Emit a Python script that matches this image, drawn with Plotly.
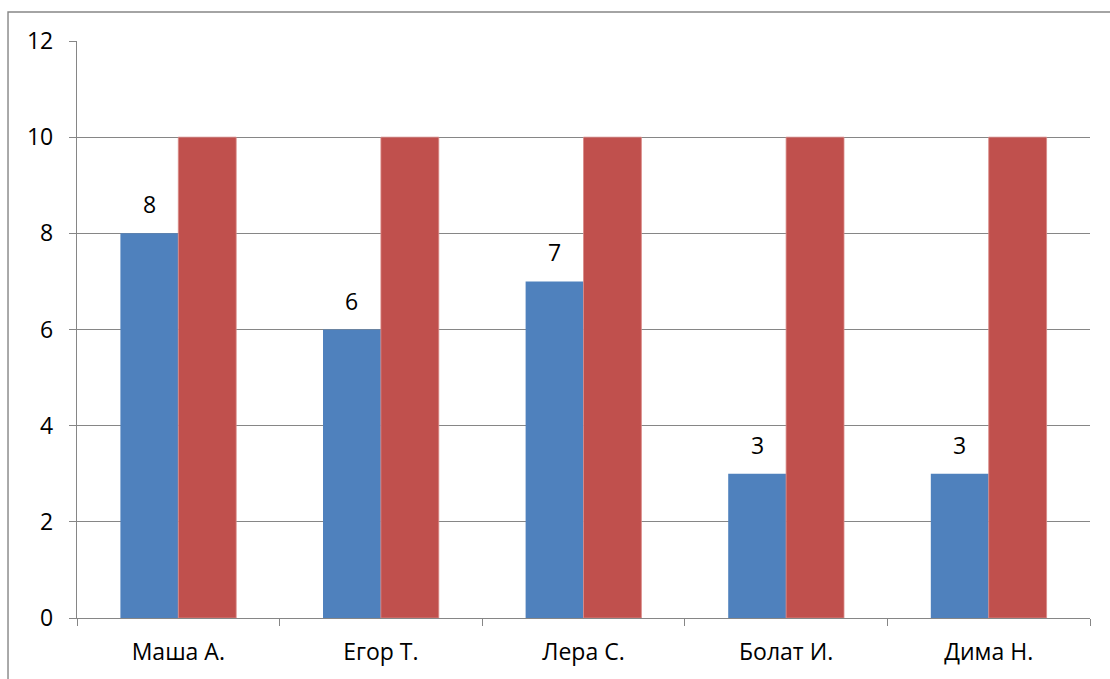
import plotly.graph_objects as go

# Оценки учеников: полученный балл и максимальный балл
students = ["Маша А.", "Егор Т.", "Лера С.", "Болат И.", "Дима Н."]
scores = [8, 6, 7, 3, 3]
max_scores = [10, 10, 10, 10, 10]
y_ticks = [0, 2, 4, 6, 8, 10, 12]

BLUE = "#4F81BD"
RED = "#C0504D"
GRID = "#868686"
FONT = "Open Sans"
FS = 23

fig = go.Figure()
fig.add_trace(go.Bar(x=students, y=scores, name="Балл",
                     marker=dict(color=BLUE, line=dict(width=0))))
fig.add_trace(go.Bar(x=students, y=max_scores, name="Максимум",
                     marker=dict(color=RED, line=dict(width=0.8, color="#D98A88"))))

# Подписи значений над синими столбцами
for s, v in zip(students, scores):
    fig.add_annotation(x=s, y=v, xref="x", yref="y", text=str(v),
                       showarrow=False, xshift=-29, yshift=11, yanchor="bottom",
                       font=dict(family=FONT, size=FS, color="black"))

# Внешняя рамка диаграммы
fig.add_shape(type="rect", xref="paper", yref="paper",
              x0=-0.0681, x1=1.2, y0=-0.3, y1=1.0503,
              line=dict(color=GRID, width=1.4), fillcolor="rgba(0,0,0,0)")

fig.update_layout(
    width=1110, height=679,
    margin=dict(l=77, r=20, t=41, b=61, pad=0),
    paper_bgcolor="white", plot_bgcolor="white",
    barmode="group", bargap=1.5 / 3.5, bargroupgap=0,
    showlegend=False,
    font=dict(family=FONT, size=FS, color="black"),
)
fig.update_xaxes(
    type="category", showline=True, linecolor=GRID, linewidth=1.4,
    ticks="outside", tickson="boundaries", ticklen=7, tickcolor=GRID, tickwidth=1.4,
    showgrid=False, ticklabelstandoff=13,
    tickfont=dict(family=FONT, size=FS, color="black"),
)
fig.update_yaxes(
    range=[0, 12], tickvals=y_ticks, showline=True, linecolor=GRID, linewidth=1.4,
    showgrid=True, gridcolor=GRID, gridwidth=1.4, zeroline=False,
    ticks="outside", ticklen=7, tickcolor=GRID, tickwidth=1.4,
    ticklabelstandoff=11,
    tickfont=dict(family=FONT, size=FS, color="black"),
)

fig.write_html("out.html")
